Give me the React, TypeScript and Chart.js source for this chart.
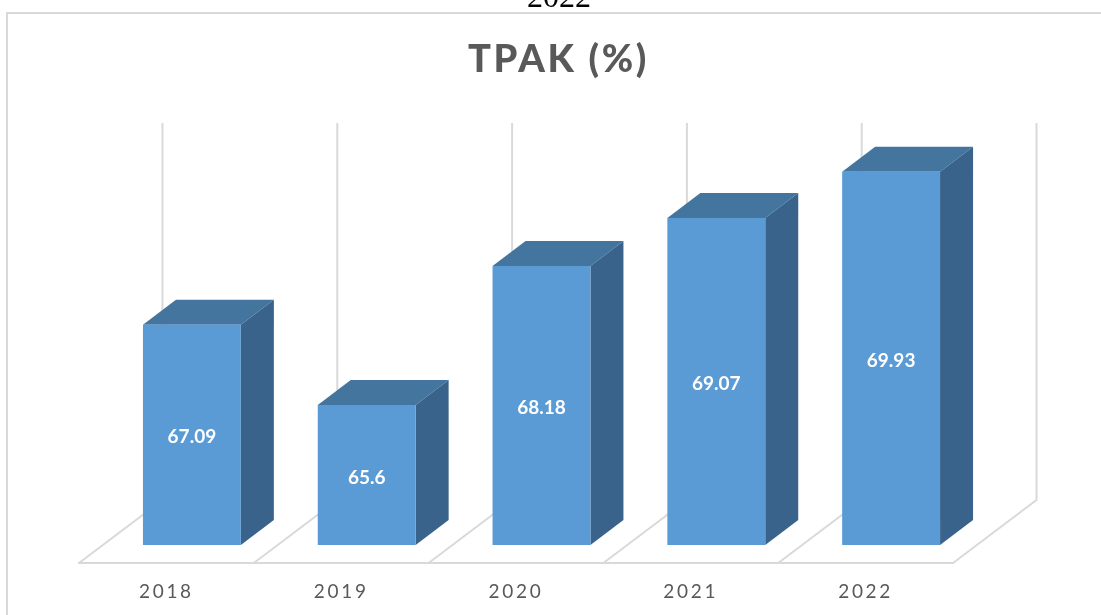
import React, { useEffect, useRef } from "react";
import { Chart, registerables } from "chart.js";

Chart.register(...registerables);

const years = ["2018", "2019", "2020", "2021", "2022"];
const tpak = [67.09, 65.6, 68.18, 69.07, 69.93];
const valueLabels = ["67.09", "65.6", "68.18", "69.07", "69.93"];
const axisMin = 63;
const axisMax = 70;

const FRONT = "#5b9bd5";
const TOP = "#44759f";
const SIDE = "#39638a";
const GRID = "#d9d9d9";

const WALL = { dx: 83.5, dy: -63 };
const INSET = { dx: 25.5, dy: -18 };
const BAR_DEPTH = { dx: 33, dy: -25 };

const chart3d = {
  id: "chart3d",
  beforeDraw(chart: any) {
    const ctx = chart.ctx;
    ctx.letterSpacing = "2.7px";
    ctx.save();
    ctx.strokeStyle = GRID;
    ctx.lineWidth = 2;
    ctx.beginPath();
    ctx.moveTo(7, 620);
    ctx.lineTo(7, 13);
    ctx.lineTo(1110, 13);
    ctx.stroke();
    ctx.restore();
  },
  beforeDatasetsDraw(chart: any) {
    const { ctx, scales } = chart;
    const x = scales.x;
    const y = scales.y;
    const base = y.getPixelForValue(axisMin);
    const top = y.getPixelForValue(axisMax);
    ctx.save();
    ctx.strokeStyle = GRID;
    ctx.lineWidth = 2;
    ctx.beginPath();
    for (let i = 0; i <= years.length; i++) {
      const px = x.getPixelForValue(i - 0.5);
      ctx.moveTo(px, base);
      ctx.lineTo(px + WALL.dx, base + WALL.dy);
      ctx.lineTo(px + WALL.dx, top + WALL.dy);
    }
    ctx.stroke();
    ctx.restore();
  },
  beforeDatasetDraw(chart: any, args: any) {
    const ctx = chart.ctx;
    ctx.save();
    ctx.translate(INSET.dx, INSET.dy);
    const meta = chart.getDatasetMeta(args.index);
    for (const bar of meta.data) {
      const half = bar.width / 2;
      const r = bar.x + half;
      const l = bar.x - half;
      ctx.fillStyle = TOP;
      ctx.beginPath();
      ctx.moveTo(l, bar.y);
      ctx.lineTo(l + BAR_DEPTH.dx, bar.y + BAR_DEPTH.dy);
      ctx.lineTo(r + BAR_DEPTH.dx, bar.y + BAR_DEPTH.dy);
      ctx.lineTo(r, bar.y);
      ctx.closePath();
      ctx.fill();
      ctx.fillStyle = SIDE;
      ctx.beginPath();
      ctx.moveTo(r, bar.y);
      ctx.lineTo(r + BAR_DEPTH.dx, bar.y + BAR_DEPTH.dy);
      ctx.lineTo(r + BAR_DEPTH.dx, bar.base + BAR_DEPTH.dy);
      ctx.lineTo(r, bar.base);
      ctx.closePath();
      ctx.fill();
    }
  },
  afterDatasetDraw(chart: any, args: any) {
    const ctx = chart.ctx;
    const meta = chart.getDatasetMeta(args.index);
    ctx.save();
    ctx.letterSpacing = "0px";
    ctx.fillStyle = "#ffffff";
    ctx.font = "bold 19px Lato";
    ctx.textAlign = "center";
    ctx.textBaseline = "middle";
    meta.data.forEach((bar: any, i: number) => {
      ctx.fillText(valueLabels[i], bar.x, (bar.y + bar.base) / 2 + 2.5);
    });
    ctx.restore();
    ctx.restore();
  },
};

export default function App() {
  const ref = useRef<HTMLCanvasElement>(null);

  useEffect(() => {
    const chart = new Chart(ref.current as HTMLCanvasElement, {
      type: "bar",
      data: {
        labels: years,
        datasets: [
          {
            label: "TPAK (%)",
            data: tpak,
            base: axisMin,
            yAxisID: "y",
            backgroundColor: FRONT,
            borderWidth: 0,
            barPercentage: 0.56,
            categoryPercentage: 1,
            clip: false,
          },
        ],
      },
      options: {
        animation: false,
        responsive: false,
        events: [],
        layout: { padding: { left: 16, right: 0, top: 0, bottom: 0 } },
        plugins: {
          legend: { display: false },
          tooltip: { enabled: false },
          title: {
            display: true,
            text: "TPAK (%)",
            color: "#595959",
            font: { family: "Lato", size: 38, weight: "900", lineHeight: 1.2 },
            padding: { top: 37, bottom: 103.4 },
          },
        },
        scales: {
          x: {
            grid: { display: false },
            border: { display: true, color: GRID, width: 2 },
            ticks: {
              color: "#595959",
              font: { family: "Lato", size: 19 },
              padding: 9,
              maxRotation: 0,
            },
            afterFit(scale: any) {
              scale.height = 52;
            },
          },
          y: {
            min: axisMin,
            max: axisMax,
            grid: { display: false },
            border: { display: false },
            ticks: { display: false },
            afterFit(scale: any) {
              scale.width = 63;
            },
          },
          y2: {
            position: "right",
            min: axisMin,
            max: axisMax,
            grid: { display: false },
            border: { display: false },
            ticks: { display: false },
            afterFit(scale: any) {
              scale.width = 148;
            },
          },
        },
      } as any,
      plugins: [chart3d],
    });
    return () => chart.destroy();
  }, []);

  return (
    <div
      style={{
        position: "absolute",
        left: 0,
        top: 0,
        width: 1101,
        height: 615,
        overflow: "hidden",
        background: "#ffffff",
      }}
    >
      <canvas ref={ref} width={1101} height={615} style={{ display: "block" }} />
      <div
        style={{
          position: "absolute",
          left: 527,
          top: -24,
          fontFamily: "'Liberation Serif', serif",
          fontSize: 32,
          lineHeight: "40px",
          color: "#000000",
        }}
      >
        2022
      </div>
    </div>
  );
}
